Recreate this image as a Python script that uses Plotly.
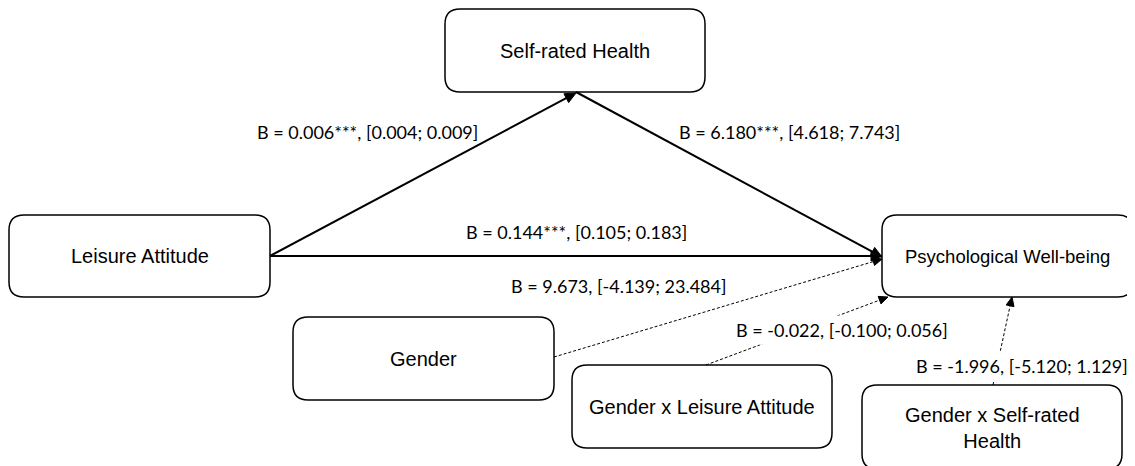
import plotly.graph_objects as go

# ---- data ----
node_names = ["Leisure Attitude", "Self-rated Health", "Psychological Well-being",
              "Gender", "Gender x Leisure Attitude", "Gender x Self-rated<br>Health"]
edge_from = [0, 1, 0, 3, 4, 5]
edge_to = [1, 2, 2, 2, 2, 2]
coef_B = ["0.006***", "6.180***", "0.144***", "9.673", "-0.022", "-1.996"]
ci_low = ["0.004", "4.618", "0.105", "-4.139", "-0.100", "-5.120"]
ci_high = ["0.009", "7.743", "0.183", "23.484", "0.056", "1.129"]
edge_dashed = [False, False, False, True, True, True]

# ---- layout (pixel positions, y downward) ----
boxes = [(9, 215, 270, 297), (445, 9, 705, 92), (882, 215, 1133, 297),
         (293, 317, 554, 400), (572, 365, 832, 448), (862, 385, 1122, 469)]
node_font = [20, 20, 18.5, 20, 20, 20]
edge_start = [(270, 256), (576, 92), (270, 256), (554, 357), (706, 365), (993, 385)]
edge_end = [(576, 93), (882, 257), (882, 256), (882, 259), (888, 297), (1012, 297)]
label_pos = [(367, 132), (789, 132), (576, 232), (618, 286), (842, 330), (1022, 366)]
label_bg = [False, False, False, False, True, True]

OFF = 8  # page body margin
W, H = 1135, 466
fig = go.Figure()


def rrect(x0, y0, x1, y1, r=15):
    return (f"M {x0+r},{y0} L {x1-r},{y0} Q {x1},{y0} {x1},{y0+r} "
            f"L {x1},{y1-r} Q {x1},{y1} {x1-r},{y1} L {x0+r},{y1} "
            f"Q {x0},{y1} {x0},{y1-r} L {x0},{y0+r} Q {x0},{y0} {x0+r},{y0} Z")


shapes = []
for (x0, y0, x1, y1) in boxes:
    shapes.append(dict(type="path", path=rrect(x0, y0, x1, y1), xref="x", yref="y",
                       line=dict(color="black", width=1.5), fillcolor="white"))

annotations = []
for i, name in enumerate(node_names):
    x0, y0, x1, y1 = boxes[i]
    cy = (y0 + y1) / 2
    if i == 5:
        cy = 428
    annotations.append(dict(x=(x0 + x1) / 2, y=cy, xref="x", yref="y", text=name,
                            showarrow=False,
                            font=dict(family="Liberation Sans, Arial", size=node_font[i], color="black")))

for k in range(len(edge_from)):
    (sx, sy), (ex, ey) = edge_start[k], edge_end[k]
    dashed = edge_dashed[k]
    L = 11 if not dashed else 9
    hw = 5 if not dashed else 4
    dx, dy = ex - sx, ey - sy
    n = (dx ** 2 + dy ** 2) ** 0.5
    ux, uy = dx / n, dy / n
    bx, by = ex - ux * L, ey - uy * L
    px, py = -uy, ux
    shapes.append(dict(type="line", x0=sx, y0=sy, x1=bx + ux * 2, y1=by + uy * 2,
                       xref="x", yref="y",
                       line=dict(color="black", width=2 if not dashed else 1,
                                 dash="3px,2px" if dashed else "solid")))
    tri = (f"M {ex},{ey} L {bx + px*hw},{by + py*hw} L {bx - px*hw},{by - py*hw} Z")
    shapes.append(dict(type="path", path=tri, xref="x", yref="y",
                       line=dict(color="black", width=1), fillcolor="black"))
    lx, ly = label_pos[k]
    annotations.append(dict(x=lx, y=ly, xref="x", yref="y",
                            text=f"B = {coef_B[k]}, [{ci_low[k]}; {ci_high[k]}]",
                            showarrow=False, bgcolor="white" if label_bg[k] else None,
                            borderpad=3,
                            font=dict(family="Lato, Open Sans", size=18, color="black")))

fig.add_trace(go.Scatter(x=[OFF, W], y=[OFF, H], mode="markers", marker=dict(opacity=0),
                         hoverinfo="skip", showlegend=False))
fig.update_layout(width=W - OFF, height=H - OFF, margin=dict(l=0, r=0, t=0, b=0),
                  paper_bgcolor="white", plot_bgcolor="white",
                  shapes=shapes, annotations=annotations, showlegend=False)
fig.update_xaxes(range=[OFF, W], visible=False, fixedrange=True)
fig.update_yaxes(range=[H, OFF], visible=False, fixedrange=True)
fig.write_html("out.html")
